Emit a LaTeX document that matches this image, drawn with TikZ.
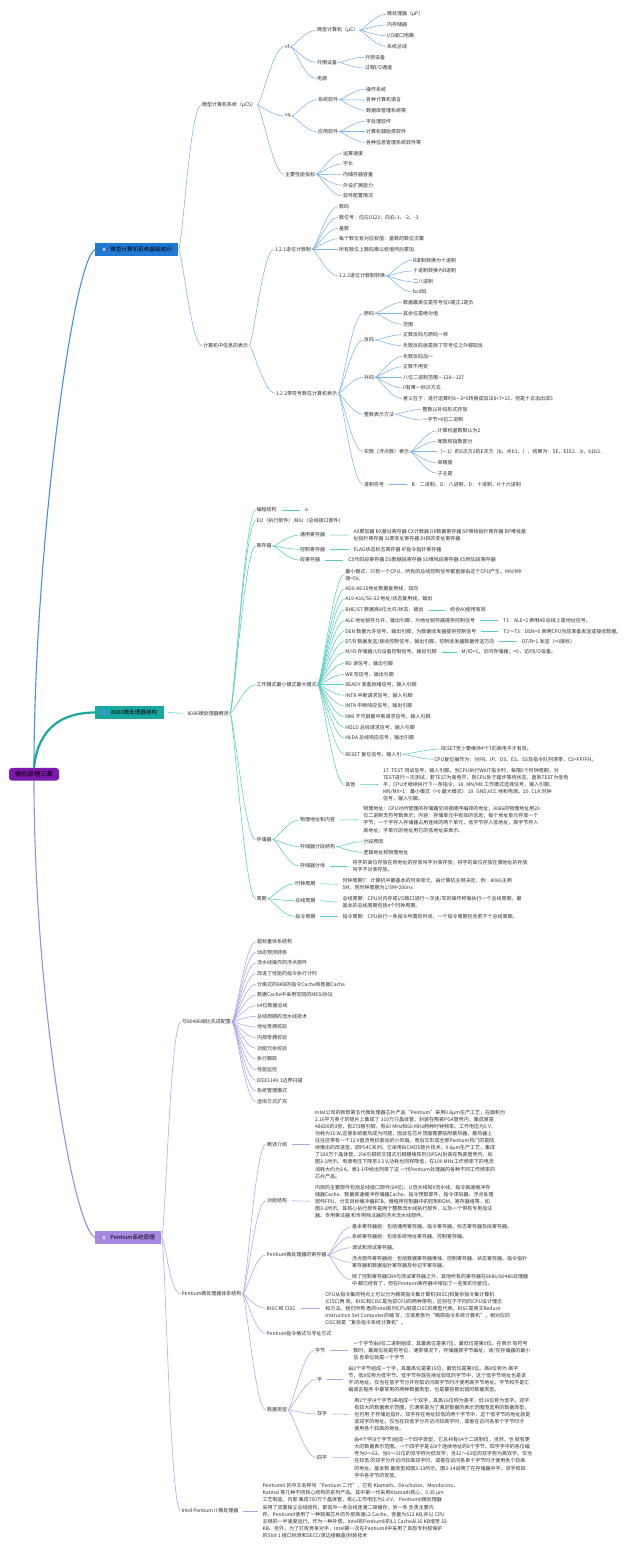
\documentclass[tikz,border=0pt]{standalone}
\usepackage{fontspec}
\setmainfont{Noto Sans CJK SC}
\usetikzlibrary{calc,shapes.geometric}
\definecolor{txt}{HTML}{2E2E2E}
\definecolor{lblue}{HTML}{7DB4EA}
\definecolor{lteal}{HTML}{58CCC4}
\definecolor{lpurp}{HTML}{AFA3EA}
\definecolor{boxblue}{HTML}{2079D4}
\definecolor{boxteal}{HTML}{19A8A1}
\definecolor{boxpurp}{HTML}{A688E2}
\definecolor{rootpurp}{HTML}{7C18AA}
\definecolor{rblue}{HTML}{4A90E0}
\definecolor{rteal}{HTML}{1AA9A0}
\definecolor{rpurp}{HTML}{9F8BE6}
\tikzset{
 tx/.style={anchor=west,inner sep=0.8pt,font=\fontsize{5}{7.1}\selectfont,text=txt,align=left},
 brbox/.style={anchor=west,minimum height=13pt,inner sep=0pt,font=\fontsize{5.6}{7}\selectfont,text=black},
 cb/.style={draw=lblue,line width=0.55pt},
 ct/.style={draw=lteal,line width=0.55pt},
 cp/.style={draw=lpurp,line width=0.55pt},
}
\newcommand\mfan[3]{\foreach \nn in {#3}{\draw[#1] (#2.east) to[out=0,in=180,out distance=4pt,in distance=11pt] (\nn.west);}}
\newcommand\mstl[3]{\draw[#1] ($(#2.east)+(4,0)$) -- ($(#3.west)+(-4,0)$);}
\begin{document}
\begin{tikzpicture}[x=1pt,y=-1pt]
\useasboundingbox[fill=white] (0,0) rectangle (640,1550);

% ---------- root and branch boxes ----------
\node[fill=rootpurp,rounded corners=3pt,minimum width=50pt,minimum height=12.7pt,inner sep=0pt,font=\fontsize{6.3}{7}\selectfont,text=black] (R) at (34,774.3) {微机原理三章};
\node[brbox,fill=boxblue,minimum width=83pt] (B) at (95,249.5) {\hspace*{9pt}微型计算机系统基础知识};
\node[brbox,fill=boxteal,minimum width=69pt] (T) at (95,712.5) {\hspace*{9pt}8086微处理器结构};
\node[brbox,fill=boxpurp,minimum width=66pt] (P) at (95,1237.5) {\hspace*{9pt}Pentium系统原理};
\node[star,star points=5,star point ratio=2.2,fill=white!60!boxblue,draw=black!40!boxblue,line width=0.3pt,minimum size=7pt,inner sep=0pt] (ic1) at (104,249.5) {};
\node[circle,fill=rblue,minimum size=5.5pt,inner sep=0pt] (ic2) at (104,712.5) {};
\node[circle,fill=white!40!boxpurp,draw=black!30!boxpurp,line width=0.3pt,minimum size=5.5pt,inner sep=0pt] (ic3) at (104,1237.5) {};

\draw[line width=1.1pt,draw=rblue] (R.north) .. controls (34,560) and (72,262) .. (B.west);
\draw[line width=2.2pt,draw=rteal] (R.north) .. controls (38,728) and (62,712.5) .. (T.west);
\draw[line width=1.1pt,draw=rpurp] (R.south) .. controls (34,990) and (72,1226) .. (P.west);

% ---------- blue branch ----------
\node[tx] (ucs) at (201,105.3) {微型计算机系统（μCS）};
\node[tx] (vf) at (284,46.7) {vf};
\node[tx] (uc) at (316,30.3) {微型计算机（μC）};
\node[tx] (uc1) at (386,14.3) {微处理器（μP）};
\node[tx] (uc2) at (386,25) {内存储器};
\node[tx] (uc3) at (386,35.7) {I/O接口电路};
\node[tx] (uc4) at (386,46.3) {系统总线};
\node[tx] (ww) at (316,62.3) {外围设备};
\node[tx] (ww1) at (364,57.3) {外部设备};
\node[tx] (ww2) at (364,68) {过程I/O通道};
\node[tx] (dy) at (316,78.7) {电源};
\node[tx] (vq) at (284,116) {vq};
\node[tx] (xr) at (317,99.7) {系统软件};
\node[tx] (xr1) at (365,89.3) {操作系统};
\node[tx] (xr2) at (365,100) {各种计算机语言};
\node[tx] (xr3) at (365,110.3) {数据库管理系统等};
\node[tx] (yr) at (317,131.7) {应用软件};
\node[tx] (yr1) at (365,121.3) {字处理软件};
\node[tx] (yr2) at (365,131.7) {计算机辅助类软件};
\node[tx] (yr3) at (365,142.3) {各种信息管理系统软件等};
\node[tx] (zb) at (284,174.3) {主要性能指标};
\node[tx] (zb1) at (342,153.3) {运算速度};
\node[tx] (zb2) at (342,164) {字长};
\node[tx] (zb3) at (342,174.7) {内储存器容量};
\node[tx] (zb4) at (342,185.3) {外设扩展能力};
\node[tx] (zb5) at (342,196) {软件配置情况};

\node[tx] (xx) at (202,345.7) {计算机中信息的表示};
\node[tx] (j1) at (274,249.3) {1.2.1进位计数制};
\node[tx] (j1a) at (338,206.7) {数码};
\node[tx] (j1b) at (338,217.3) {数位号：向左0123；向右-1、-2、-3};
\node[tx] (j1c) at (338,228.3) {基数};
\node[tx] (j1d) at (338,238.7) {每个数位有对应权值：基数的数位次幂};
\node[tx] (j1e) at (338,249.3) {所有数位上数码乘以权值然后累加};
\node[tx] (jz) at (338,276) {1.2.2进位计数制转换};
\node[tx] (jz1) at (412,260.3) {R进制转换为十进制};
\node[tx] (jz2) at (412,271) {十进制转换为R进制};
\node[tx] (jz3) at (412,281.7) {二八进制};
\node[tx] (jz4) at (412,292) {bcd码};
\node[tx] (j2) at (275,393.3) {1.2.2带符号数在计算机表示};
\node[tx] (ym) at (363,313.3) {原码};
\node[tx] (ym1) at (402,302.3) {数据最高位是符号位0是正1是负};
\node[tx] (ym2) at (402,313.3) {其余位是绝对值};
\node[tx] (ym3) at (402,324.3) {范围};
\node[tx] (fm) at (363,340) {反码};
\node[tx] (fm1) at (402,334.7) {正数反码与原码一样};
\node[tx] (fm2) at (402,345.7) {负数反码就是除了符号位之外都取反};
\node[tx] (bm) at (363,377.3) {补码};
\node[tx] (bm1) at (402,356.3) {负数反码加一};
\node[tx] (bm2) at (402,366.7) {正数不用变};
\node[tx] (bm3) at (402,377.3) {八位二进制范围－128—127};
\node[tx] (bm4) at (402,388) {0有唯一标识方式};
\node[tx] (bm5) at (402,398.7) {意义在于：进行运算时8—3=5转换成加法8+7=15，但是十五溢出成5};
\node[tx] (zs) at (363,414.3) {整数表示方法};
\node[tx] (zs1) at (421.7,409.3) {整数以补码形式存放};
\node[tx] (zs2) at (421.7,420) {一字节=8位二进制};
\node[tx] (ss) at (363,451.7) {实数（浮点数）表示};
\node[tx] (ss1) at (436.7,430.7) {计算机基数默认为2};
\node[tx] (ss2) at (436.7,441.3) {尾数和指数部分};
\node[tx] (ss3) at (436.7,451.7) {（—1）的S次方2的E次方（b。点b1，），结果为：SE，E1E2…b，b1b2..};
\node[tx] (ss4) at (436.7,462.7) {单精度};
\node[tx] (ss5) at (436.7,473.3) {子主题};
\node[tx] (jf) at (363,484.3) {进制符号};
\node[tx] (jf1) at (410.7,484.3) {B：二进制，O：八进制，D：十进制，H十六进制};

\mfan{cb}{B}{ucs,xx}
\mfan{cb}{ucs}{vf,vq,zb}
\mfan{cb}{vf}{uc,ww,dy}
\mfan{cb}{uc}{uc1,uc2,uc3,uc4}
\mfan{cb}{ww}{ww1,ww2}
\mfan{cb}{vq}{xr,yr}
\mfan{cb}{xr}{xr1,xr2,xr3}
\mfan{cb}{yr}{yr1,yr2,yr3}
\mfan{cb}{zb}{zb1,zb2,zb3,zb4,zb5}
\mfan{cb}{xx}{j1,j2}
\mfan{cb}{j1}{j1a,j1b,j1c,j1d,j1e,jz}
\mfan{cb}{jz}{jz1,jz2,jz3,jz4}
\mfan{cb}{j2}{ym,fm,bm,zs,ss,jf}
\mfan{cb}{ym}{ym1,ym2,ym3}
\mfan{cb}{fm}{fm1,fm2}
\mfan{cb}{bm}{bm1,bm2,bm3,bm4,bm5}
\mfan{cb}{zs}{zs1,zs2}
\mfan{cb}{ss}{ss1,ss2,ss3,ss4,ss5}
\mstl{cb}{jf}{jf1}

% ---------- teal branch ----------
\node[tx] (gs) at (186.7,713.3) {8086微处理器概述};
\mstl{ct}{T}{gs}
\node[tx] (bc) at (255.7,510) {编程结构};
\node[tx] (bca) at (304,510) {a};
\node[tx] (eu) at (255.7,520.7) {EU（执行部件）/BIU（总线接口部件）};
\node[tx] (jc) at (255.7,546) {寄存器};
\node[tx] (gm) at (255.7,684.7) {工作模式最小模式最大模式};
\node[tx] (cc) at (255.7,839.3) {存储器};
\node[tx] (zq) at (255.7,898.7) {周期};
\mfan{ct}{gs}{bc,eu,jc,gm,cc,zq}
\mstl{ct}{bc}{bca}

\node[tx] (jc1) at (299,535) {通用寄存器};
\node[tx] (jc1t) at (352.7,535.2) {AX累加器 BX基址寄存器 CX计数器 DX数据寄存器 SP堆栈指针寄存器 BP堆栈基\\址指针寄存器 SI源变址寄存器 DI目的变址寄存器};
\node[tx] (jc2) at (299,549.3) {控制寄存器};
\node[tx] (jc2t) at (352.7,549.3) {FLAG状态标志寄存器 IP指令指针寄存器};
\node[tx] (jc3) at (299,560) {段寄存器};
\node[tx] (jc3t) at (347.3,560) {CS代码段寄存器 DS数据段寄存器 SS堆栈段寄存器 ES附加段寄存器};
\mfan{ct}{jc}{jc1,jc2,jc3}
\mstl{ct}{jc1}{jc1t}
\mstl{ct}{jc2}{jc2t}
\mstl{ct}{jc3}{jc3t}

\node[tx] (m1) at (344.3,574.7) {最小模式：只有一个CPU，所有的总线控制信号都直接由这个CPU产生。MN/MX\\端=5V。};
\node[tx] (m2) at (344.3,589) {AD0-AD15地址数据复用线，双向};
\node[tx] (m3) at (344.3,599.3) {A19-A16/S6-S3 地址/状态复用线，输出};
\node[tx] (m4) at (344.3,610) {BHE/S7 数据高8位允许/状态，输出};
\node[tx] (m5) at (344.3,620.7) {ALE 地址锁存允许，输出引脚，为地址锁存器提供控制信号};
\node[tx] (m6) at (344.3,631.3) {DEN 数据允许信号，输出引脚，为数据收发器提供控制信号};
\node[tx] (m7) at (344.3,641.7) {DT/R 数据发送/接收控制信号，输出引脚，控制收发器数据传送方向};
\node[tx] (m8) at (344.3,652.3) {M/IO 存储器/I/O设备控制信号，输出引脚};
\node[tx] (m9) at (344.3,663.2) {RD 读信号，输出引脚};
\node[tx] (m10) at (344.3,674.3) {WR 写信号，输出引脚};
\node[tx] (m11) at (344.3,684.7) {READY 准备就绪信号，输入引脚};
\node[tx] (m12) at (344.3,695.3) {INTR 中断请求信号，输入引脚};
\node[tx] (m13) at (344.3,706) {INTA 中断响应信号，输出引脚};
\node[tx] (m14) at (344.3,716.7) {NMI 不可屏蔽中断请求信号，输入引脚};
\node[tx] (m15) at (344.3,727.3) {HOLD 总线请求信号，输入引脚};
\node[tx] (m16) at (344.3,738) {HLDA 总线响应信号，输出引脚};
\node[tx] (m17) at (344.3,754.3) {RESET 复位信号，输入引};
\node[tx] (m18) at (344.3,784.7) {其他};
\mfan{ct}{gm}{m1,m2,m3,m4,m5,m6,m7,m8,m9,m10,m11,m12,m13,m14,m15,m16,m17,m18}

\node[tx] (m4t) at (449,610) {结合A0使用有效};
\node[tx] (m5t) at (502.3,620.7) {T1：ALE=1 表明AD总线上是地址信号。};
\node[tx] (m6t) at (502.3,631.3) {T2～T3：DEN=0 表明CPU当前准备发送或接收数据。};
\node[tx] (m7t) at (521,641.7) {DT/R=1 发送（=0接收）};
\node[tx] (m8t) at (460.7,652.3) {M/IO=1，访问存储器；=0，访问I/O设备。};
\mstl{ct}{m4}{m4t}
\mstl{ct}{m5}{m5t}
\mstl{ct}{m6}{m6t}
\mstl{ct}{m7}{m7t}
\mstl{ct}{m8}{m8t}
\node[tx] (r1) at (440,749) {RESET至少要维持4个T的高电平才有效。};
\node[tx] (r2) at (433.3,759.3) {CPU复位操作为：对FR、IP、DS、ES、SS及指令队列清零，CS=FFFFH。};
\mfan{ct}{m17}{r1,r2}
\node[tx] (qt) at (382,784.5) {17. TEST 测试信号，输入引脚。当CPU执行WAIT指令时，每隔5个时钟周期，对\\TEST进行一次测试，若TEST为高电平，则CPU处于踏步等待状态，直到TEST为低电\\平，CPU才继续执行下一条指令。18. MN/MX 工作模式选择信号，输入引脚。\\MN/MX=1：最小模式（=0 最大模式） 19. GND,VCC 地和电源。20. CLK 时钟\\信号，输入引脚。};
\mstl{ct}{m18}{qt}

\node[tx] (cc1) at (299,820) {物理地址和内容};
\node[tx] (cc1t) at (362.3,819.7) {物理地址：CPU对所管理的存储器空间按顺序编排的地址；8086的物理地址用20\\位二进制无符号数表示；内容：存储单元中有效的信息；每个地址单元存放一个\\字节；一个字存入存储器占用连续的两个单元，低字节存入低地址，高字节存入\\高地址；字单元的地址用它的低地址来表示。};
\node[tx] (cc2) at (299,846.7) {存储器分段结构};
\node[tx] (cc2a) at (362.3,841.7) {分段原因};
\node[tx] (cc2b) at (362.3,852.3) {逻辑地址和物理地址};
\node[tx] (cc3) at (299,866) {存储器分体};
\node[tx] (cc3t) at (351.7,866) {将字的高位存放在奇地址的存放叫字对准存放；将字的高位存放在偶地址的存放\\叫字不对准存放。};
\mfan{ct}{cc}{cc1,cc2,cc3}
\mstl{ct}{cc1}{cc1t}
\mfan{ct}{cc2}{cc2a,cc2b}
\mstl{ct}{cc3}{cc3t}

\node[tx] (zq1) at (294.3,883.7) {时钟周期};
\node[tx] (zq1t) at (341.7,884.3) {时钟周期T：计算机中最基本的时间单元，由计算机主频决定，例：8086主频\\5M，则时钟周期为1/5M=200ns};
\node[tx] (zq2) at (294.3,900.7) {总线周期};
\node[tx] (zq2t) at (341.7,902.2) {总线周期：CPU对内存或I/O端口进行一次读/写的操作称做执行一个总线周期，最\\基本的总线周期包括4个时钟周期。};
\node[tx] (zq3) at (294.3,916.3) {指令周期};
\node[tx] (zq3t) at (341.7,916.3) {指令周期：CPU执行一条指令所需的时间，一个指令周期包含若干个总线周期。};
\mfan{ct}{zq}{zq1,zq2,zq3}
\mstl{ct}{zq1}{zq1t}
\mstl{ct}{zq2}{zq2t}
\mstl{ct}{zq3}{zq3t}

% ---------- purple branch ----------
\node[tx] (xj) at (181,1021.7) {与80486相比先进配置};
\foreach \yy/\ww [count=\i] in {941.7/超标量体系结构,952.3/动态预测转移,963/流水线操作的浮点部件,973.7/改进了性能的指令执行计时,984.3/分离式的8KB的指令Cache和数据Cache,995/数据Cache中采用写回的MESI协议,1005.7/64位数据总线,1016.3/总线周期的流水线技术,1027/地址奇偶校验,1037.7/内部奇偶校验,1048.3/功能冗余校验,1059/执行跟踪,1069.7/性能监控,1080.3/IEEE1149.1边界扫描,1091/系统管理模式,1101.7/虚拟方式扩充}{
  \node[tx] (xj\i) at (256,\yy) {\ww};
  \draw[cp] (xj.east) to[out=0,in=180,out distance=4pt,in distance=11pt] (xj\i.west);
}
\node[tx] (tj) at (180.7,1294) {Pentium微处理器体系结构};
\node[tx] (p2) at (180.7,1511) {Intel Pentium II 微处理器};
\mfan{cp}{P}{xj,tj,p2}
\node[tx] (p2t) at (261.7,1511) {PentiumII 的中文名称叫“Pentium 二代”，它有 Klamath、Deschutes、Mendocino、\\Katmai 等几种不同核心结构的系列产品。其中第一代采用Klamath核心，0.35 μm\\工艺制造，内部 集成750万个晶体管，核心工作电压为2.8 V。 PentiumII微处理器\\采用了双重独立总线结构，即其中一条总线连通二级缓存，另一条 负责主要内\\存。PentiumII使用了一种脱离芯片的外部高速L2 Cache，容量为512 KB,并以 CPU\\主频的一半速度运行。作为一种补偿，Intel将PentiumII的L1 Cache从16 KB增至 32\\KB。另外，为了打败竞争对手，Intel第一次在PentiumII中采用了具有专利权保护\\的Slot 1 接口标准和SECC(单边接触盒)封装技术};
\mstl{cp}{p2}{p2t}

\node[tx] (gj) at (266,1144.3) {概述介绍};
\node[tx] (gjt) at (314,1144.3) {Intel公司的新款第五代微处理器芯片产品“Pentium”采用0.8μm生产工艺，在面积为\\2.16平方英寸的硅片上集成了 310万只晶体管，封装在陶瓷PGA管壳内，集成度是\\486DX的3倍，有273根引脚，有60 MHz和66 MHz两种时钟频率。工作电压为5 V，\\功耗为15 W,这使系统散热成为问题，因此在芯片顶面需要贴附散热器，散热器上\\往往还带有一个12 V直流电机驱动的小风扇。而后又形成全部Pentium热门的是陆\\续推出的改进型，即P54C系列。它采用BiCMOS硅片技术，0.6μm生产工艺，集成\\了330万个晶体管，296引脚的交错式引脚栅格阵列(SPGA)封装在陶瓷管壳内，如\\图3-1所示。电源电压下降至3.3 V,功耗也同样降低，在100 MHz工作频率下的电流\\消耗大约为3 A。表3-1中给出列举了这 一代Pentium处理器的各种不同工作频率的\\芯片产品。};
\node[tx] (gn) at (266,1200.7) {功能结构};
\node[tx] (gnt) at (314,1201.3) {内部的主要部件包括总线接口部件(64位)、U流水线和V流水线、指令高速缓冲存\\储器Cache、数据高速缓冲存储器Cache、指令预取部件、指令译码器、浮点处理\\部件FPU、分支目标缓冲器BTB、微程序控制器中的控制ROM、寄存器组等，如\\图3-2所示。其核心执行部件是两个整数流水线执行部件，以及一个带有专用加法\\器、专用乘法器 和专用除法器的浮点流水线部件。};
\node[tx] (jq) at (265.7,1255) {Pentium微处理器的寄存器};
\node[tx] (jq1) at (351,1226.7) {基本寄存器组：包括通用寄存器、指令寄存器、标志寄存器及段寄存器。};
\node[tx] (jq2) at (351,1237) {系统寄存器组：包括系统地址寄存器、控制寄存器。};
\node[tx] (jq3) at (351,1247.7) {调试和测试寄存器。};
\node[tx] (jq4) at (351,1262.3) {浮点部件寄存器组：包括数据寄存器堆栈、控制寄存器、状态寄存器、指令指针\\寄存器和数据指针寄存器及标记字寄存器。};
\node[tx] (jq5) at (351,1279.7) {除了控制寄存器CR4与测试寄存器之外，其他所有的寄存器在8086/80486处理器\\中 都已经有了，但在Pentium寄存器中增加了一些新的功能位。};
\node[tx] (rc) at (265.7,1308.3) {RISC 和 CISC};
\node[tx] (rct) at (324.3,1308.3) {CPU从指令集的特点上可以分为精简指令集计算机(RISC)和复杂指令集计算机\\(CISC)两 类。RISC和CISC是当前CPU的两种架构，区别在于不同的CPU设计理念\\和方法。我们所熟 悉的Intel系列CPU就是CISC的典型代表。RISC是英文Reduce\\Instruction Set Computer的缩 写，汉语意思为“精简指令系统计算机”，相对应的\\CISC就是“复杂指令系统计算机”。};
\node[tx] (zl) at (265.7,1333.3) {Pentium指令格式与寻址方式};
\node[tx] (sl) at (266,1410) {数据类型};
\node[tx] (s1) at (314,1350.7) {字节};
\node[tx] (s1t) at (352.3,1350.7) {一个字节由8位二进制组成，其最高位是第7位，最低位是第0位。在表示 有符号\\数时，最高位就是符号位，通常情况下，存储器按字节编址，读/写存储器的最小\\信 息单位就是一个字节};
\node[tx] (s2) at (316,1379.3) {字};
\node[tx] (s2t) at (347.3,1379.3) {由2个字节组成一个字，其最高位是第15位，最低位是第0位。高8位称为 高字\\节，低8位称为低字节。低字节存放在地址较低的字节中，这个低字节地址也是该\\字 的地址。仅当在低字节分开存取访问高字节时才使用高字节地址。字节和字是汇\\编语言程序 中最常用的两种数据类型，也是最容易出错的数据类型。};
\node[tx] (s3) at (316,1414) {双字};
\node[tx] (s3t) at (353.3,1414.3) {用2个字(4个字节)来组成一个双字，其高16位称为高字，低16位称为低字。双字\\有较大的数据表示范围，它通常是为了满足数据的表示范围而选用的数据类型，\\也可用 于存储远指针。双字存在地址较低的两个字节中，这个低字节的地址就是\\该双字的地址。仅当在较低字分开访问较高字时，或者在访问各单个字节时才\\使用各个较高的地址。};
\node[tx] (s4) at (316,1457.7) {四字};
\node[tx] (s4t) at (353.3,1457.5) {由4个字(8个字节)组成一个四字类型，它总共有64个二进制位，当然，也 就有更\\大的数据表示范围。一个四字字是占8个连续地址的8个字节。四字字中的各位编\\号为0～63。当0～31位的双字称为低双字；当32～63位的双字称为高双字。仅当\\在较低 的双字分开访问较高双字时，或者在访问各单个字节时才使用各个较高\\的地址。基本数 据类型如图3-13所示。图3-14说明了在存储器中字、双字和四\\字中各字节的安放。};

\mfan{cp}{tj}{gj,gn,jq,rc,zl,sl}
\mstl{cp}{gj}{gjt}
\mstl{cp}{gn}{gnt}
\mfan{cp}{jq}{jq1,jq2,jq3,jq4,jq5}
\mstl{cp}{rc}{rct}
\mfan{cp}{sl}{s1,s2,s3,s4}
\mstl{cp}{s1}{s1t}
\mstl{cp}{s2}{s2t}
\mstl{cp}{s3}{s3t}
\mstl{cp}{s4}{s4t}
\end{tikzpicture}
\end{document}
